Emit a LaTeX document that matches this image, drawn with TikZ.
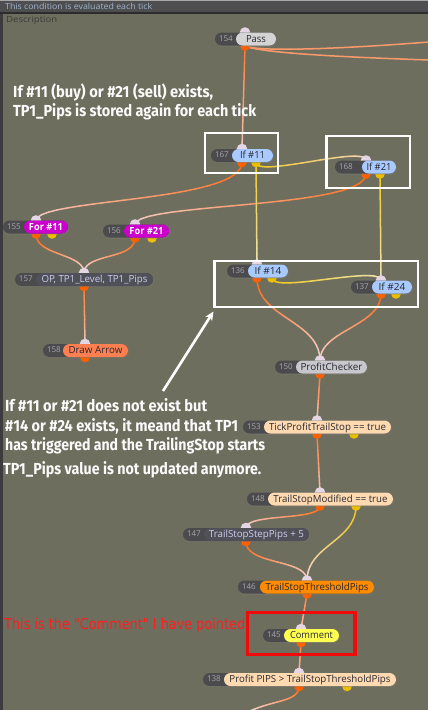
\documentclass[tikz,border=0pt]{standalone}
\usepackage{fontspec}
\usepackage{graphicx}
\setmainfont{Open Sans}
\newfontfamily\annfont{Fira Sans}
\newfontfamily\redfont{DejaVu Sans}
\usetikzlibrary{arrows.meta,shadows,calc}

\definecolor{bgc}{RGB}{110,110,94}
\definecolor{barc}{RGB}{78,78,80}
\definecolor{bardark}{RGB}{44,44,44}
\definecolor{toptxt}{RGB}{160,180,204}
\definecolor{desct}{RGB}{58,58,54}
\definecolor{numc}{RGB}{75,75,78}
\definecolor{numt}{RGB}{165,165,172}
\definecolor{inport}{RGB}{228,214,228}
\definecolor{oport}{RGB}{255,96,0}
\definecolor{yport}{RGB}{236,190,0}
\definecolor{lineo}{RGB}{255,105,20}
\definecolor{liney}{RGB}{240,198,20}
\definecolor{linep}{RGB}{242,214,214}
\definecolor{lineyp}{RGB}{240,232,200}
\definecolor{passc}{RGB}{212,212,212}
\definecolor{ifc}{RGB}{168,202,255}
\definecolor{forc}{RGB}{204,0,204}
\definecolor{darkl}{RGB}{80,80,88}
\definecolor{darkt}{RGB}{205,205,240}
\definecolor{drawc}{RGB}{255,127,80}
\definecolor{pcc}{RGB}{200,200,204}
\definecolor{peach}{RGB}{255,218,176}
\definecolor{thrc}{RGB}{255,140,0}
\definecolor{commc}{RGB}{255,255,80}
\definecolor{redt}{RGB}{255,30,30}
\definecolor{redbox}{RGB}{240,10,10}
\definecolor{lbltxt}{RGB}{40,40,50}

\newcommand\fitw[2]{\resizebox{#1pt}{\height}{#2}}

% name, Y, inX, oX, yX
\newcommand\defports[5]{%
  \coordinate (#1-i) at (#3,#2-6.5);
  \coordinate (#1-o) at (#4,#2+7);
  \ifx\relax#5\relax\else\coordinate (#1-y) at (#5,#2+7);\fi
}

% gradient connector: start, control1, control2, end, colour start, colour end
\newcommand\gconn[6]{%
  \path (#1) .. controls #2 and #3 .. (#4)
    \foreach \k [evaluate=\k as \t using \k/20] in {0,...,20} {coordinate[pos=\t] (g\k)};
  \foreach \k [evaluate=\k as \kn using int(\k+1), evaluate=\k as \pc using int(100-5*\k)] in {0,...,19}
    {\draw[conn, color=#5!\pc!#6] (g\k) -- (g\kn);}%
}
% vertical-tangent connector: start, d1, d2, end, c1, c2
\newcommand\vconn[6]{\gconn{#1}{($(#1)+(0,#2)$)}{($(#4)+(0,-#3)$)}{#4}{#5}{#6}}

% name, number, L, LL, R, Y, fill, content, yellow flag
\newcommand\gpill[9]{%
  \fill[inport] (#1-i) circle (5.3);
  \fill[oport] (#1-o) circle (4.8);
  \ifnum#9=1 \fill[yport] (#1-y) circle (4.8);\fi
  \node[pill, fill=numc, minimum width={(#5-#3)*1pt},
        drop shadow={opacity=0.35,shadow xshift=0.8pt,shadow yshift=-1.2pt}] (#1) at ({(#3+#5)/2},#6) {};
  \node[pill, fill=#7, minimum width={(#5-#4)*1pt}] (#1-lab) at ({(#4+#5)/2},#6) {};
  \node[lbl] (#1-t) at ({(#4+#5)/2},#6+3.2) {#8};
  \node[numtxt] (#1-n) at (#3+3.8,#6+2.4) {#2};
}

\begin{document}
\begin{tikzpicture}[x=1pt,y=-1pt,
  conn/.style={line width=1.5pt, line cap=round},
  pill/.style={rectangle, rounded corners=6.5pt, minimum height=13pt, inner sep=0pt, outer sep=0pt},
  numtxt/.style={anchor=base west, inner sep=0pt, text=numt, font=\fontsize{8}{9}\selectfont},
  lbl/.style={anchor=base, inner sep=0pt, text=lbltxt, font=\fontsize{9.8}{11}\selectfont},
  ann/.style={anchor=base west, inner sep=0pt, text=white!96!gray, font=\annfont\bfseries\fontsize{16}{18}\selectfont},
  wbox/.style={draw=white, line width=2.4pt},
  rbox/.style={draw=redbox, line width=3.4pt},
]
\useasboundingbox (0,0) rectangle (428,710);
\fill[bgc] (0,0) rectangle (428,710);
% top bar
\fill[barc] (0,0) rectangle (428,12.5);
\fill[gray!70] (0,0) rectangle (428,0.8);
\fill[bardark] (0,12.3) rectangle (428,13.6);
\fill[numc!80!black] (0,13.6) rectangle (2.6,710);
\node[anchor=west, inner sep=0pt, text=toptxt, font=\fontsize{8.3}{9}\selectfont] (bartxt) at (5,6.6)
  {\fitw{147}{This condition is evaluated each tick}};
\node[anchor=west, inner sep=0pt, text=desct, font=\fontsize{8.5}{9}\selectfont] (desc) at (6,20.5)
  {\fitw{51}{Description}};

% ports
\defports{n154}{39}{245}{245}{}
\defports{n167}{155.5}{242}{242}{256}
\defports{n168}{167}{366}{366}{380}
\defports{n155}{227}{36}{36}{52}
\defports{n156}{231}{135}{135}{152}
\defports{n157}{279.5}{84}{84}{}
\defports{n158}{350.5}{85}{85}{}
\defports{n136}{271}{257}{257}{272}
\defports{n137}{287}{381}{381}{396}
\defports{n150}{367}{320}{320}{}
\defports{n153}{427}{317}{317}{354}
\defports{n148}{499}{320}{320}{356}
\defports{n147}{534.5}{246}{246}{}
\defports{n146}{587}{307}{307}{}
\defports{n145}{635.5}{301}{301}{}
\defports{n138}{679.5}{299}{299}{347}
\coordinate (e1) at (429,42);
\coordinate (e2) at (429,60);
\coordinate (e3) at (248,712);

% connectors
\gconn{n154-o}{(258,52)}{(340,49)}{e1}{lineo}{lineo!55!linep}
\gconn{n154-o}{(262,53)}{(340,57)}{e2}{lineo}{lineo!55!linep}
\vconn{n154-o}{0}{0}{n167-i}{lineo}{linep}
\vconn{n167-y}{16}{16}{n168-i}{liney}{linep}
\vconn{n167-o}{40}{22}{n155-i}{lineo}{linep}
\vconn{n168-o}{35}{22}{n156-i}{lineo}{linep}
\vconn{n167-y}{0}{0}{n136-i}{liney}{lineyp}
\vconn{n168-y}{0}{0}{n137-i}{liney}{lineyp}
\vconn{n155-o}{22}{20}{n157-i}{lineo}{linep}
\vconn{n156-o}{22}{20}{n157-i}{lineo}{linep}
\vconn{n157-o}{0}{0}{n158-i}{lineo}{linep}
\vconn{n136-y}{16}{16}{n137-i}{liney}{lineyp}
\vconn{n136-o}{40}{40}{n150-i}{lineo}{linep}
\vconn{n137-o}{32}{30}{n150-i}{lineo}{linep}
\vconn{n150-o}{0}{0}{n153-i}{lineo}{linep}
\vconn{n153-o}{0}{0}{n148-i}{lineo}{linep}
\vconn{n148-o}{15}{15}{n147-i}{lineo}{linep}
\vconn{n147-o}{24}{22}{n146-i}{lineo}{linep}
\vconn{n148-y}{35}{35}{n146-i}{liney}{linep}
\vconn{n146-o}{0}{0}{n145-i}{lineo}{linep}
\vconn{n145-o}{0}{0}{n138-i}{lineo}{linep}
\gconn{n138-o}{(299,702)}{(272,700)}{e3}{lineo}{linep}

% nodes
\gpill{n154}{154}{215}{236}{276}{39}{passc}{\fitw{20}{Pass}}{0}
\gpill{n167}{167}{211}{232}{273}{155.5}{ifc}{\fitw{25}{If \#11}}{1}
\gpill{n168}{168}{335}{362}{396}{167}{ifc}{\fitw{25}{If \#21}}{1}
\gpill{n155}{155}{3}{24}{68}{227}{forc}{\color{white}\bfseries\fitw{34}{For \#11}}{1}
\gpill{n156}{156}{103}{124}{169}{231}{forc}{\color{white}\bfseries\fitw{34}{For \#21}}{1}
\gpill{n157}{157}{15}{36}{153}{279.5}{darkl}{\color{darkt}\fitw{106}{OP, TP1\_Level, TP1\_Pips}}{0}
\gpill{n158}{158}{43}{63}{128}{350.5}{drawc}{\fitw{54}{Draw Arrow}}{0}
\gpill{n136}{136}{227}{248}{288}{271}{ifc}{\fitw{27}{If \#14}}{1}
\gpill{n137}{137}{351}{372}{412}{287}{ifc}{\fitw{27}{If \#24}}{1}
\gpill{n150}{150}{275}{296}{367}{367}{pcc}{\fitw{62}{ProfitChecker}}{0}
\gpill{n153}{153}{243}{264}{391}{427}{peach}{\fitw{117}{TickProfitTrailStop == true}}{1}
\gpill{n148}{148}{247}{268}{393}{499}{peach}{\fitw{114}{TrailStopModified == true}}{1}
\gpill{n147}{147}{183}{204}{309}{534.5}{darkl}{\color{darkt}\fitw{95}{TrailStopStepPips + 5}}{0}
\gpill{n146}{146}{238}{260}{374}{587}{thrc}{\fitw{103}{TrailStopThresholdPips}}{0}
\gpill{n145}{145}{263}{284}{339}{635.5}{commc}{\fitw{43}{Comment}}{0}
\gpill{n138}{138}{203}{224}{396}{679.5}{peach}{\fitw{161}{Profit PIPS > TrailStopThresholdPips}}{1}

% highlight boxes
\draw[wbox] (205.2,133.2) rectangle (277.8,173.2);
\draw[wbox] (326.5,136.2) rectangle (409.8,187.8);
\draw[wbox] (214.5,261.2) rectangle (418.2,307.2);
\draw[rbox] (247.5,612.5) rectangle (355,654.5);

% annotations
\node[ann] (a1) at (13,97.5) {\fitw{200}{If \#11 (buy) or \#21 (sell) exists,}};
\node[ann] (a2) at (13,116.5) {\fitw{243}{TP1\_Pips is stored again for each tick}};
\node[ann] (b1) at (5,411.5) {\fitw{202}{If \#11 or \#21 does not exist but}};
\node[ann] (b2) at (5,431) {\fitw{233}{\#14 or \#24 exists, it meand that TP1}};
\node[ann] (b3) at (5,450.5) {\fitw{260}{has triggered and the TrailingStop starts}};
\node[ann] (b4) at (3,474.5) {\fitw{258}{TP1\_Pips value is not updated anymore.}};
\node[anchor=base west, inner sep=0pt, text=redt, font=\redfont\fontsize{15}{17}\selectfont] (r1) at (4,629)
  {\fitw{241}{This is the "Comment" I have pointed}};

% white arrow
\coordinate (arrS) at (163,391);
\coordinate (arrE) at (213.5,311.5);
\draw[white, line width=2.6pt, -{Stealth[length=9pt,width=8pt]}] (arrS) -- (arrE);
\end{tikzpicture}
\end{document}
